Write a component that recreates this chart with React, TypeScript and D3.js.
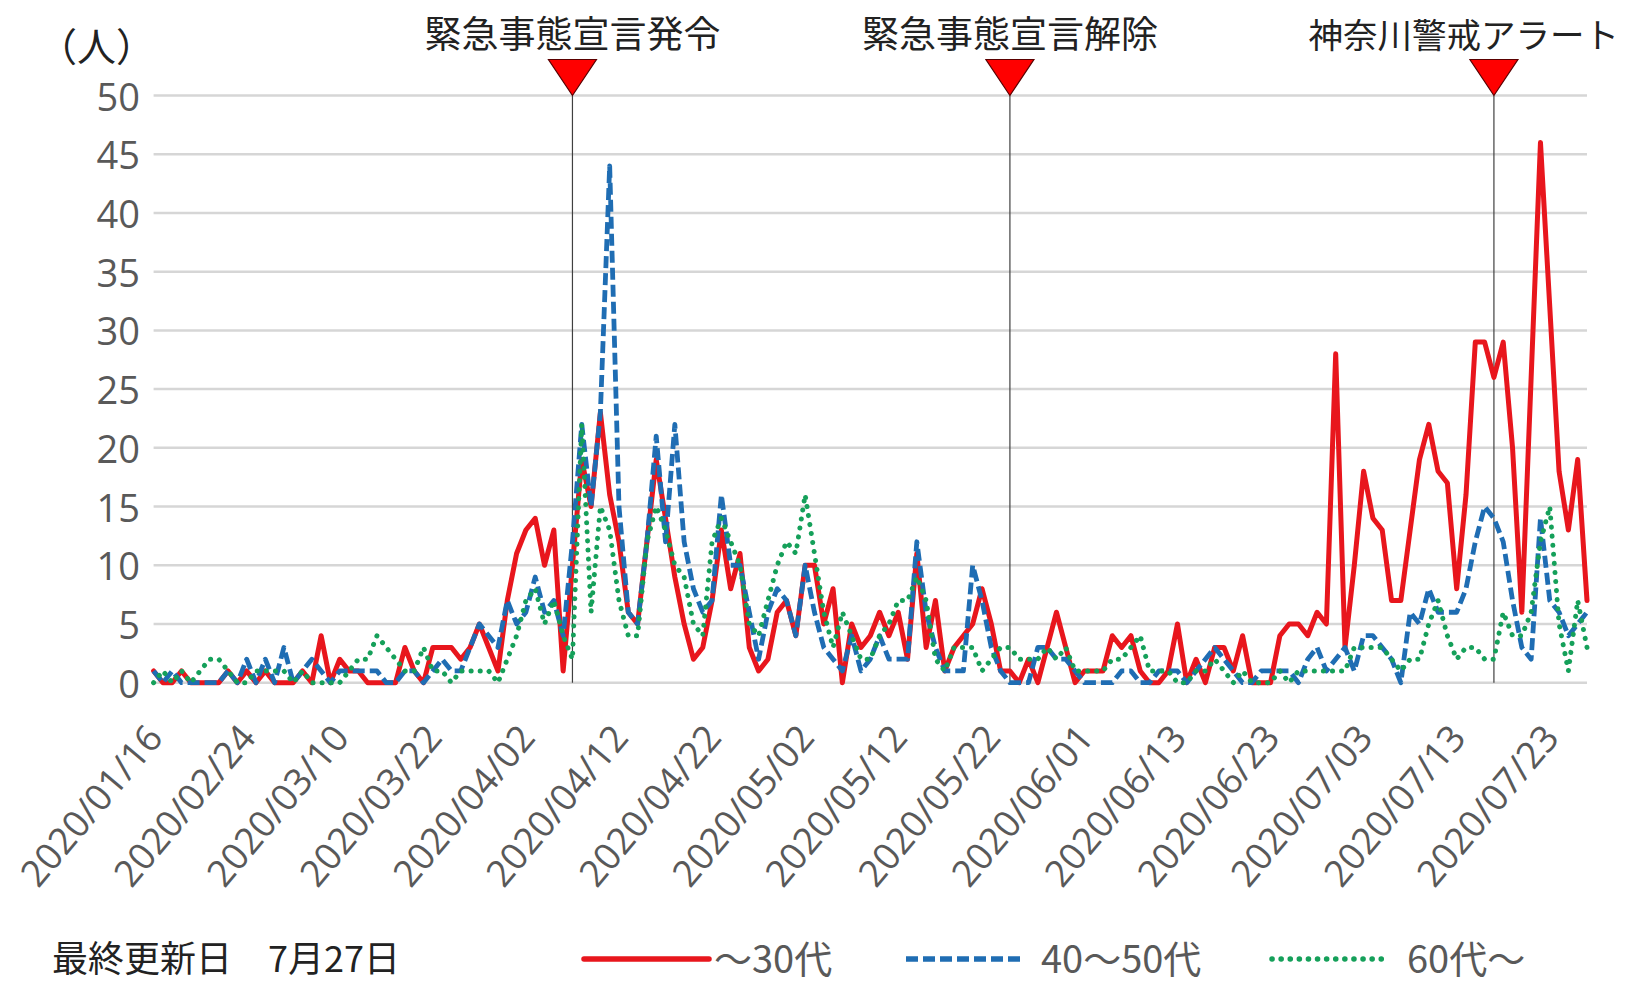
import React from 'react';
import * as d3 from 'd3';

const dateLabels = [
  "01/16","02/11","02/13","02/14","02/15","02/18","02/19","02/20","02/21","02/22",
  "02/24","02/25","02/26","02/27","02/28","02/29","03/01","03/03","03/05","03/07",
  "03/10","03/11","03/12","03/13","03/14","03/15","03/17","03/18","03/19","03/20",
  "03/22","03/23","03/24","03/25","03/26","03/27","03/28","03/29","03/30","03/31",
  "04/02","04/03","04/04","04/05","04/06","04/07","04/08","04/09","04/10","04/11",
  "04/12","04/13","04/14","04/15","04/16","04/17","04/18","04/19","04/20","04/21",
  "04/22","04/23","04/24","04/25","04/26","04/27","04/28","04/29","04/30","05/01",
  "05/02","05/03","05/04","05/05","05/06","05/07","05/08","05/09","05/10","05/11",
  "05/12","05/13","05/14","05/15","05/16","05/17","05/18","05/19","05/20","05/21",
  "05/22","05/23","05/24","05/25","05/26","05/27","05/28","05/29","05/30","05/31",
  "06/01","06/02","06/03","06/04","06/05","06/06","06/08","06/09","06/10","06/12",
  "06/13","06/14","06/15","06/16","06/17","06/18","06/19","06/20","06/21","06/22",
  "06/23","06/24","06/25","06/26","06/27","06/28","06/29","06/30","07/01","07/02",
  "07/03","07/04","07/05","07/06","07/07","07/08","07/09","07/10","07/11","07/12",
  "07/13","07/14","07/15","07/16","07/17","07/18","07/19","07/20","07/21","07/22",
  "07/23","07/24","07/25","07/26","07/27"
].map(d => "2020/" + d);

const seriesNames = ["～30代", "40～50代", "60代～"];

const under30 = [
  1,0,0,1,0,0,0,0,1,0, 1,0,1,0,0,0,1,0,4,0, 2,1,1,0,0,0,0,3,1,0,
  3,3,3,2,3,5,3,1,7,11, 13,14,10,13,1,10,19,15,23,16, 12,6,5,12,19,14,9,5,2,3,
  7,13,8,11,3,1,2,6,7,4, 10,10,5,8,0,5,3,4,6,4, 6,2,11,3,7,1,3,4,5,8,
  5,1,1,0,2,0,3,6,3,0, 1,1,1,4,3,4,1,0,0,1, 5,0,2,0,3,3,1,4,0,0,
  0,4,5,5,4,6,5,28,3,10, 18,14,13,7,7,13,19,22,18,17, 8,16,29,29,26,29,20,6,26,46,
  32,18,13,19,7
];

const age40to50 = [
  1,0,1,0,0,0,0,0,1,0, 2,0,2,0,3,0,1,2,1,0, 1,1,1,1,1,0,0,1,1,0,
  1,2,1,1,3,5,4,3,7,5, 6,9,6,7,4,12,22,15,23,44, 15,6,5,12,21,12,22,12,8,6,
  7,16,10,10,6,2,6,8,7,4, 10,6,3,2,1,4,1,2,4,2, 2,2,12,6,3,1,1,1,10,7,
  3,1,0,0,0,3,3,2,2,1, 0,0,0,0,1,1,0,0,1,1, 1,0,1,2,3,2,1,0,0,1,
  1,1,1,0,2,3,1,2,3,1, 4,4,3,2,0,6,5,8,6,6, 6,8,12,15,14,12,7,3,2,14,
  7,6,4,5,6
];

const over60 = [
  0,1,0,1,0,1,2,2,1,0, 0,1,1,1,1,0,1,0,0,0, 0,1,2,2,4,3,2,1,1,3,
  1,1,0,1,1,1,1,0,2,4, 7,8,5,7,4,2,22,6,15,13, 7,4,4,12,15,13,10,9,5,4,
  12,14,12,10,5,4,7,10,12,11, 16,11,6,3,6,4,2,2,4,5, 7,7,9,7,2,1,3,3,3,1,
  2,3,3,2,2,2,3,2,3,1, 1,1,1,2,2,3,4,1,1,1, 0,0,1,1,2,1,0,1,0,0,
  0,1,0,1,1,1,1,1,1,3, 3,3,3,2,1,2,2,5,7,4, 2,3,3,2,2,6,4,4,6,12,
  15,5,1,7,3
];

const yTicks = [0, 5, 10, 15, 20, 25, 30, 35, 40, 45, 50];
const labelEvery = 10;

const events = [
  { date: "2020/04/07", label: "緊急事態宣言発令" },
  { date: "2020/05/24", label: "緊急事態宣言解除" },
  { date: "2020/07/17", label: "神奈川警戒アラート" },
];

const updatedLabel = "最終更新日";
const updatedDate = "7月27日";
const yUnit = "（人）";

const W = 1627;
const H = 985;
const LAT = "'Open Sans', 'Noto Sans CJK JP', sans-serif";
const CJK = "'Noto Sans CJK JP', sans-serif";
const GRAY = "#595959";

const styles = [
  { color: "#e8161d", width: 5, dash: undefined as string | undefined, cap: "round" },
  { color: "#1f6db3", width: 4.8, dash: "12 5", cap: "butt" },
  { color: "#15a05a", width: 5, dash: "0.1 9", cap: "round" },
];

export default function App() {
  const x = d3.scalePoint<string>().domain(dateLabels).range([153.6, 1587]);
  const y = d3.scaleLinear().domain([0, 50]).range([682.7, 95.5]);
  const series = [under30, age40to50, over60];
  const line = d3.line<number>()
    .x((_, i) => x(dateLabels[i]) as number)
    .y(d => y(d));

  const legendItems = [
    { x0: 584, x1: 709, tx: 714 },
    { x0: 906, x1: 1025, tx: 1041 },
    { x0: 1272, x1: 1390, tx: 1407 },
  ];
  const legendY = 956;

  return (
    <div style={{ position: 'absolute', left: 0, top: 0 }}>
      <svg width={W} height={H} style={{ display: 'block', background: '#fff' }}>
        {yTicks.map(t => (
          <line key={t} x1={x.range()[0]} x2={x.range()[1]} y1={y(t)} y2={y(t)}
            stroke="#d6d6d6" strokeWidth={2.5} />
        ))}
        {yTicks.map(t => (
          <text key={'yl' + t} x={140} y={y(t)} textAnchor="end" dominantBaseline="central"
            fontFamily={LAT} fontSize={38} fill={GRAY}>{t}</text>
        ))}
        <text x={38} y={44} dominantBaseline="central" fontFamily={CJK} fontSize={39} fill="#222">{yUnit}</text>

        {dateLabels.map((d, i) => i % labelEvery === 0 ? (
          <text key={d} transform={`translate(${(x(d) as number) + 11},${y(0) + 56}) rotate(-50)`}
            textAnchor="end" fontFamily={LAT} fontSize={37} fill={GRAY}>{d}</text>
        ) : null)}

        {events.map(e => {
          const cx = x(e.date) as number;
          return (
            <line key={e.date} x1={cx} x2={cx} y1={y(50)} y2={y(0)} stroke="#404040" strokeWidth={1.2} />
          );
        })}

        {series.map((s, k) => (
          <path key={k} d={line(s) || ''} fill="none" stroke={styles[k].color}
            strokeWidth={styles[k].width} strokeDasharray={styles[k].dash}
            strokeLinecap={styles[k].cap as any} strokeLinejoin="round" />
        ))}

        {events.map((e, k) => {
          const cx = x(e.date) as number;
          const tip = y(50);
          const isLast = k === events.length - 1;
          return (
            <g key={'m' + e.date}>
              <path d={`M${cx - 24},${tip - 36}L${cx + 24},${tip - 36}L${cx},${tip}Z`}
                fill="#ff0000" stroke="#5a0000" strokeWidth={1.2} />
              {isLast ? (
                <text x={W - 8} y={33} textAnchor="end" dominantBaseline="central"
                  fontFamily={CJK} fontSize={34.5} fill="#222">{e.label}</text>
              ) : (
                <text x={cx} y={32} textAnchor="middle" dominantBaseline="central"
                  fontFamily={CJK} fontSize={37} fill="#222">{e.label}</text>
              )}
            </g>
          );
        })}

        <text x={52} y={legendY} dominantBaseline="central" fontFamily={CJK} fontSize={36} fill="#222">{updatedLabel}</text>
        <text x={268} y={legendY} dominantBaseline="central" fontFamily={CJK} fontSize={36} fill="#222">{updatedDate}</text>
        {legendItems.map((it, k) => (
          <g key={'lg' + k}>
            <line x1={it.x0} x2={it.x1} y1={legendY + 3} y2={legendY + 3} stroke={styles[k].color}
              strokeWidth={styles[k].width + 0.5} strokeDasharray={styles[k].dash}
              strokeLinecap={styles[k].cap as any} />
            <text x={it.tx} y={legendY} dominantBaseline="central" fontFamily={CJK} fontSize={38}
              fill={GRAY}>{seriesNames[k]}</text>
          </g>
        ))}
      </svg>
    </div>
  );
}
